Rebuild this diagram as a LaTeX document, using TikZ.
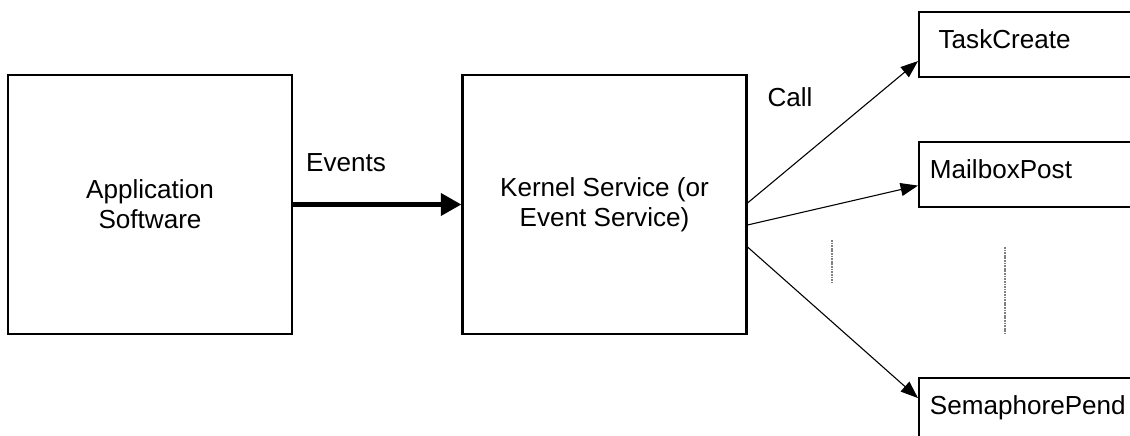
\documentclass[tikz,border=0pt]{standalone}
\usepackage{fontspec}
\setmainfont{Liberation Sans}
\usetikzlibrary{shapes,arrows,arrows.meta,positioning,calc}

\begin{document}
\begin{tikzpicture}[x=0.46pt,y=-0.46pt,
  block/.style={draw,line width=1pt,minimum width=130.6pt,minimum height=119.1pt,align=center,font=\fontsize{12}{13.8}\selectfont},
  callbox/.style={draw,line width=1pt,anchor=north west,text width=130pt,align=left,inner xsep=5pt,inner ysep=0pt,text height=16.7pt,text depth=13.2pt,font=\fontsize{12}{13.8}\selectfont},
  call/.style={-{Triangle[length=8pt,width=6pt]},line width=0.5pt}]
\useasboundingbox (0,0) rectangle (1130,436);
\clip (0,0) rectangle (1130,436);

% Blocks
\node[block] (app) at (150,204.5) {Application\\Software};
\node[block] (kernel) at (604.5,204.5) {Kernel Service (or\\Event Service)};

% Services
\node[callbox,inner xsep=9pt] (task) at (918,11) {TaskCreate};
\node[callbox] (mail) at (918,141) {MailboxPost};
\node[callbox] (sem) at (918,377) {SemaphorePend};

% Events
\draw[-{Triangle[length=9.5pt,width=10pt]},line width=2.2pt] (app.east) -- (kernel.west);
\node[font=\fontsize{12}{13.8}\selectfont] (ev) at (346,163) {Events};

% Calls
\node[font=\fontsize{12}{13.8}\selectfont] (lbl) at (790,97) {Call};
\draw[call] ($(kernel.east)+(0,-1.5)$) -- ($(task.west)+(0,16.5)$);
\draw[call] ($(kernel.east)+(0,20.5)$) -- ($(mail.west)+(0,11)$);
\draw[call] ($(kernel.east)+(0,42.5)$) -- ($(sem.west)+(0,-12.5)$);

% dots
\draw[dash pattern=on 0.8pt off 0.4pt,line width=0.5pt,gray] (832,240) -- (832,283);
\draw[dash pattern=on 0.8pt off 0.4pt,line width=0.5pt,gray] (1005,247) -- (1005,334);
\end{tikzpicture}
\end{document}
